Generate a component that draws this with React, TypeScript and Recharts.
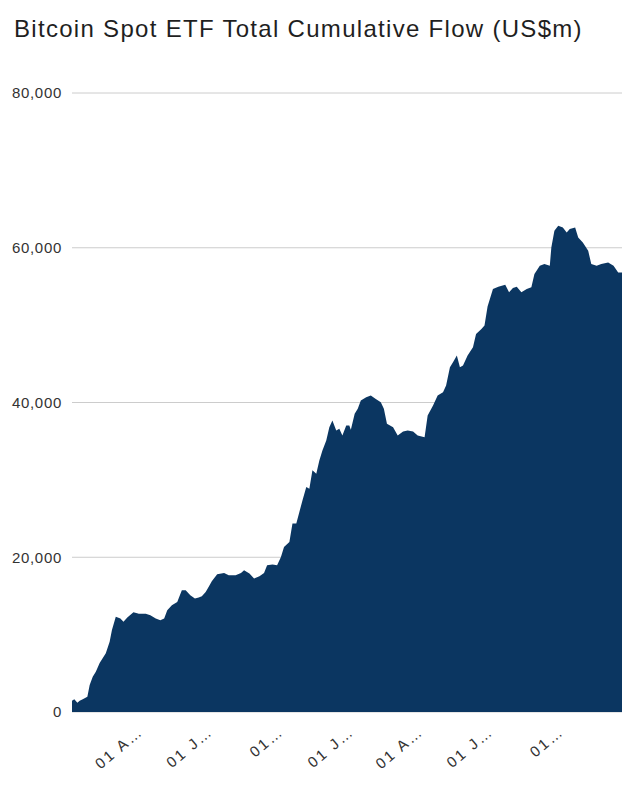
import React from 'react';
import { AreaChart, Area, XAxis, YAxis, CartesianGrid } from 'recharts';

const DATES = [
  '2024-01-11','2024-01-14','2024-01-18','2024-01-21','2024-01-25','2024-01-31','2024-02-03','2024-02-07','2024-02-11','2024-02-16',
  '2024-02-24','2024-02-29','2024-03-03','2024-03-08','2024-03-14','2024-03-18','2024-03-23','2024-03-31','2024-04-07','2024-04-16',
  '2024-04-22','2024-04-29','2024-05-05','2024-05-10','2024-05-14','2024-05-20','2024-05-27','2024-06-02','2024-06-07','2024-06-13',
  '2024-06-19','2024-06-24','2024-06-28','2024-07-03','2024-07-07','2024-07-11','2024-07-18','2024-07-27','2024-08-02','2024-08-11',
  '2024-08-18','2024-08-22','2024-08-29','2024-09-04','2024-09-11','2024-09-17','2024-09-21','2024-09-28','2024-10-04','2024-10-09',
  '2024-10-13','2024-10-20','2024-10-24','2024-10-29','2024-11-02','2024-11-06','2024-11-11','2024-11-15','2024-11-19','2024-11-24',
  '2024-11-28','2024-12-02','2024-12-07','2024-12-11','2024-12-15','2024-12-20','2024-12-24','2024-12-28','2025-01-02','2025-01-06',
  '2025-01-08','2025-01-13','2025-01-17','2025-01-21','2025-01-28','2025-02-03','2025-02-09','2025-02-16','2025-02-20','2025-02-24',
  '2025-03-04','2025-03-10','2025-03-17','2025-03-23','2025-03-30','2025-04-05','2025-04-14','2025-04-18','2025-04-25','2025-05-01',
  '2025-05-08','2025-05-12','2025-05-17','2025-05-21','2025-05-26','2025-05-30','2025-06-03','2025-06-09','2025-06-16','2025-06-20',
  '2025-06-27','2025-07-01','2025-07-05','2025-07-12','2025-07-19','2025-07-28','2025-08-02','2025-08-07','2025-08-12','2025-08-18',
  '2025-08-25','2025-08-31','2025-09-04','2025-09-11','2025-09-17','2025-09-24','2025-09-26','2025-09-30','2025-10-05','2025-10-11',
  '2025-10-16','2025-10-20','2025-10-27','2025-10-31','2025-11-06','2025-11-13','2025-11-17','2025-11-24','2025-11-30','2025-12-09',
  '2025-12-16','2025-12-22','2025-12-27',
];

const FLOWS = [
  1460, 1640, 1200, 1460, 1640, 1970, 3480, 4550, 5200, 6320,
  7600, 9070, 10600, 12300, 12100, 11650, 12200, 12900, 12700, 12700,
  12500, 12100, 11870, 12100, 13160, 13800, 14230, 15740, 15740, 15100,
  14670, 14800, 14950, 15520, 16200, 16900, 17800, 17980, 17680, 17680,
  17980, 18320, 17890, 17250, 17550, 17980, 18970, 19050, 18970, 20040,
  21330, 21970, 24350, 24350, 25850, 27350, 29070, 28860, 31230, 30800,
  32520, 33800, 35100, 36810, 37680, 36390, 36600, 35740, 37030, 37030,
  36470, 38540, 39190, 40260, 40680, 40900, 40480, 40040, 39190, 37250,
  36810, 35740, 36260, 36390, 36260, 35740, 35520, 38320, 39610, 40900,
  41330, 42190, 44550, 45200, 46060, 44550, 44770, 46060, 47140, 48860,
  49510, 49940, 52400, 54670, 54970, 55230, 54240, 54800, 54970, 54240,
  54670, 54880, 56600, 57680, 57890, 57680, 60040, 62190, 62840, 62620,
  61970, 62410, 62620, 61330, 60680, 59610, 57890, 57680, 57890, 58100,
  57680, 56810, 56810,
];

const Y_TICKS = [0, 20000, 40000, 60000, 80000];
const X_TICK_DATES = ['2024-04-01', '2024-07-01', '2024-10-01', '2025-01-01', '2025-04-01', '2025-07-01', '2025-10-01'];
const X_TICK_LABELS = ['01 A…', '01 J…', '01…', '01 J…', '01 A…', '01 J…', '01…'];
const TITLE = 'Bitcoin Spot ETF Total Cumulative Flow (US$m)';

const toT = (s: string) => Date.UTC(+s.slice(0, 4), +s.slice(5, 7) - 1, +s.slice(8, 10));
const data = DATES.map((d, i) => ({ t: toT(d), v: FLOWS[i] }));
const xTicks = X_TICK_DATES.map(toT);

const FONT = '"Liberation Sans", Arial, sans-serif';

const XTick = (props: any) => {
  const { x, y, index } = props;
  const ax = x + 10;
  const ay = y;
  return (
    <text
      x={ax}
      y={ay}
      textAnchor="end"
      transform={`rotate(-40, ${ax}, ${ay})`}
      fontSize={15}
      fontFamily={FONT}
      fill="#333333"
      letterSpacing={2.4}
    >
      {X_TICK_LABELS[index]}
    </text>
  );
};

export default function App() {
  return (
    <div style={{ position: 'absolute', left: 0, top: 0, width: 635, height: 788, background: '#ffffff' }}>
      <AreaChart width={635} height={788} data={data} margin={{ top: 93, right: 13, bottom: 0, left: 0 }}>
        <CartesianGrid vertical={false} stroke="#cccccc" />
        <XAxis
          dataKey="t"
          type="number"
          domain={['dataMin', 'dataMax']}
          ticks={xTicks}
          height={76}
          axisLine={false}
          tickLine={false}
          tickSize={0}
          tickMargin={21}
          interval={0}
          tick={<XTick />}
        />
        <YAxis
          domain={[0, 80000]}
          ticks={Y_TICKS}
          width={72}
          axisLine={false}
          tickLine={false}
          tickSize={0}
          tickMargin={10}
          tickFormatter={(v: number) => v.toLocaleString('en-US')}
          tick={{ fontSize: 15, fill: '#333333', fontFamily: FONT, letterSpacing: 0.7 } as any}
        />
        <Area
          type="linear"
          dataKey="v"
          stroke="none"
          fill="#0b3661"
          fillOpacity={1}
          isAnimationActive={false}
          dot={false}
          activeDot={false}
        />
      </AreaChart>
      <svg width={635} height={60} style={{ position: 'absolute', left: 0, top: 0 }}>
        <text x={14} y={37} fontSize={24} fontFamily={FONT} fill="#1f1f1f" letterSpacing={1.3}>
          {TITLE}
        </text>
      </svg>
    </div>
  );
}
